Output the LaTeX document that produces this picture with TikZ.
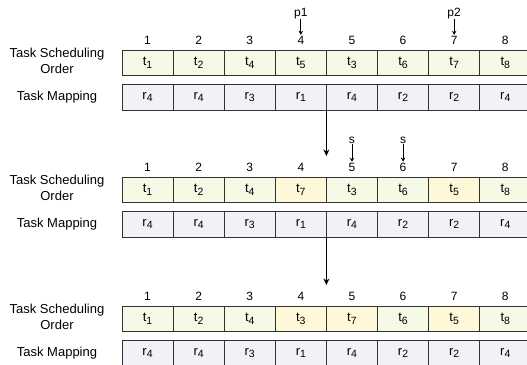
\documentclass[tikz,border=0pt]{standalone}
\usepackage{fontspec}
\setmainfont{Liberation Sans}
\usetikzlibrary{arrows.meta,calc}
\definecolor{schedfill}{HTML}{F5F9E5}
\definecolor{swapfill}{HTML}{FFF8D8}
\definecolor{mapfill}{HTML}{F2F1F8}
\definecolor{edgegray}{HTML}{333333}

% letter with a lowered index, e.g. t_1, r_4
\newcommand\idx[2]{#1\raisebox{-2.8pt}{\fontsize{10.5}{10.5}\selectfont #2}}

\tikzset{
  cellbox/.style={draw=edgegray, line width=1pt, minimum width=51.1pt,
    inner sep=0pt, outer sep=0pt, font=\fontsize{13}{13}\selectfont},
  schedcell/.style={cellbox, minimum height=25pt},
  mapcell/.style={cellbox, minimum height=26pt, fill=mapfill},
  poslabel/.style={inner sep=0pt, anchor=south, font=\fontsize{12}{12}\selectfont},
  rowlabel/.style={align=center, inner sep=0pt, font=\fontsize{13}{16}\selectfont},
  markarrow/.style={line width=0.8pt, -{Stealth[length=4pt,width=4.5pt]}},
  steparrow/.style={line width=1pt, -{Stealth[length=6.5pt,width=6pt]}},
}

% #1 block name, #2 top of scheduling row, #3 cells "letter index/fill"
\newcommand\taskblock[3]{%
  \node[rowlabel] (#1-lbls) at (57,#2+11) {Task Scheduling\\Order};
  \node[rowlabel] (#1-lblm) at (57,#2+47) {Task Mapping};
  \foreach \t/\f [count=\i] in {#3} {
    \node[schedcell, fill=\f] (#1-s\i) at (122+51.1*\i-25.55,#2+12.5) {\idx t{\t}};
    \node[poslabel] (#1-n\i) at ($(#1-s\i.north)+(0,-5)$) {\i};
  }
  \foreach \r [count=\i] in {4,4,3,1,4,2,2,4} {
    \node[mapcell] (#1-m\i) at (122+51.1*\i-25.55,#2+47) {\idx r{\r}};
  }
}

\begin{document}
\begin{tikzpicture}[x=1pt,y=-1pt]
\clip (0,0) rectangle (527,364);
\fill[white] (0,0) rectangle (527,364);

\taskblock{a}{50}{1/schedfill,2/schedfill,4/schedfill,5/schedfill,3/schedfill,6/schedfill,7/schedfill,8/schedfill}
\taskblock{b}{177}{1/schedfill,2/schedfill,4/schedfill,7/swapfill,3/schedfill,6/schedfill,5/swapfill,8/schedfill}
\taskblock{c}{306}{1/schedfill,2/schedfill,4/schedfill,3/swapfill,7/swapfill,6/schedfill,5/swapfill,8/schedfill}

% crossover points
\node[inner sep=0pt, font=\fontsize{12}{12}\selectfont] (p1) at ($(a-n4)+(0,-27)$) {p1};
\node[inner sep=0pt, font=\fontsize{12}{12}\selectfont] (p2) at ($(a-n7)+(0,-27)$) {p2};
\draw[markarrow] (p1.south) -- ($(a-n4.north)+(0,-1.5)$);
\draw[markarrow] (p2.south) -- ($(a-n7.north)+(0,-1.5)$);

% swapped positions
\node[inner sep=0pt, font=\fontsize{12}{12}\selectfont] (s1) at ($(b-n5)+(0,-27)$) {s};
\node[inner sep=0pt, font=\fontsize{12}{12}\selectfont] (s2) at ($(b-n6)+(0,-27)$) {s};
\draw[markarrow] (s1.south) -- ($(b-n5.north)+(0,-1.5)$);
\draw[markarrow] (s2.south) -- ($(b-n6.north)+(0,-1.5)$);

% steps between the stages
\coordinate (ab) at ($(b-s4.north east)+(0,-21)$);
\coordinate (bc) at ($(c-s4.north east)+(0,-21)$);
\draw[steparrow] (a-m4.south east) -- (ab);
\draw[steparrow] (b-m4.south east) -- (bc);
\end{tikzpicture}
\end{document}
